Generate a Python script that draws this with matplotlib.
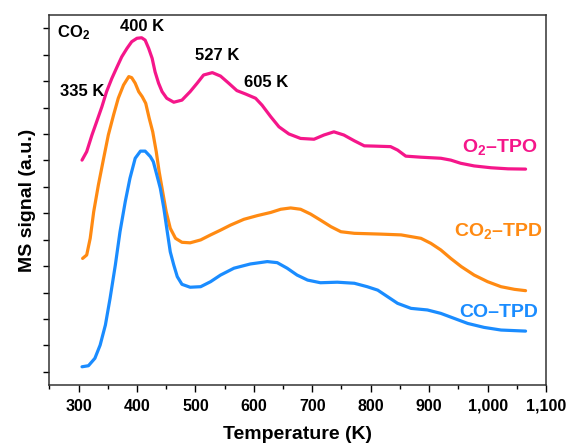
import numpy as np
import matplotlib
matplotlib.use("Agg")
import matplotlib.pyplot as plt
from matplotlib.ticker import FuncFormatter, MultipleLocator

plt.rcParams['font.family'] = ['Liberation Sans', 'DejaVu Sans']
plt.rcParams['font.weight'] = 'bold'
plt.rcParams['mathtext.fontset'] = 'custom'
plt.rcParams['mathtext.rm'] = 'Liberation Sans:bold'
plt.rcParams['mathtext.bf'] = 'Liberation Sans:bold'
plt.rcParams['mathtext.default'] = 'rm'

# O2-TPO (pink, top)
tpo_T = [306, 314, 323, 331, 340, 348, 357, 366, 374, 383, 391, 400, 408, 414, 420, 426, 431, 437, 443, 451,
         463, 477, 491, 503, 514, 529, 543, 557, 571, 586, 603, 614, 629, 643, 660, 680, 703, 720, 737, 754,
         772, 789, 806, 834, 846, 860, 886, 920, 937, 954, 977, 1006, 1035, 1065]
tpo_s = [8.01, 8.33, 8.96, 9.46, 10.03, 10.60, 11.10, 11.54, 11.92, 12.24, 12.49, 12.62, 12.64, 12.55, 12.24, 11.86, 11.35, 10.92, 10.60, 10.35,
         10.20, 10.28, 10.60, 10.92, 11.23, 11.32, 11.19, 10.92, 10.64, 10.51, 10.35, 10.09, 9.65, 9.27, 9.00, 8.83, 8.80, 8.96, 9.08, 8.96,
         8.74, 8.55, 8.54, 8.52, 8.39, 8.16, 8.12, 8.08, 8.01, 7.89, 7.79, 7.72, 7.68, 7.67]

# CO2-TPD (orange, middle)
co2_T = [307, 314, 320, 326, 334, 343, 351, 360, 368, 377, 386, 391, 397, 403, 409, 415, 421, 427, 433, 438,
         444, 450, 457, 466, 477, 491, 509, 526, 543, 560, 583, 606, 629, 646, 663, 680, 697, 714, 732, 749,
         772, 817, 852, 886, 903, 920, 937, 955, 977, 1000, 1023, 1046, 1065]
co2_s = [4.29, 4.42, 5.05, 6.06, 7.07, 8.08, 8.96, 9.72, 10.35, 10.85, 11.17, 11.13, 10.92, 10.60, 10.41, 10.16, 9.59, 9.08, 8.33, 7.57,
         6.81, 6.06, 5.43, 5.05, 4.90, 4.88, 4.99, 5.18, 5.36, 5.55, 5.77, 5.91, 6.03, 6.15, 6.20, 6.15, 5.97, 5.74, 5.49, 5.30,
         5.24, 5.21, 5.18, 5.05, 4.86, 4.61, 4.29, 3.98, 3.66, 3.41, 3.22, 3.12, 3.07]

# CO-TPD (blue, bottom)
co_T = [306, 317, 328, 337, 346, 354, 363, 371, 380, 388, 397, 406, 414, 423, 428, 434, 440, 446, 451, 457,
        463, 469, 477, 491, 509, 526, 543, 566, 594, 623, 640, 657, 674, 692, 714, 743, 772, 794, 812, 829,
        846, 869, 897, 920, 943, 966, 994, 1023, 1065]
co_s = [0.19, 0.23, 0.51, 1.01, 1.77, 2.78, 4.04, 5.30, 6.44, 7.32, 8.08, 8.35, 8.35, 8.14, 7.95, 7.45, 6.94, 6.19, 5.43, 4.54,
        4.04, 3.60, 3.31, 3.20, 3.22, 3.41, 3.66, 3.92, 4.08, 4.17, 4.13, 3.92, 3.66, 3.47, 3.37, 3.39, 3.35, 3.22, 3.09, 2.84,
        2.59, 2.40, 2.34, 2.21, 2.02, 1.83, 1.68, 1.58, 1.54]

pink = '#f5168a'
orange = '#ff8a12'
blue = '#1a8cff'

fig = plt.figure(figsize=(5.66, 4.43), dpi=100)
ax = fig.add_axes([0.0871, 0.1309, 0.8776, 0.8352])

for T, s, c in [(tpo_T, tpo_s, pink), (co2_T, co2_s, orange), (co_T, co_s, blue)]:
    ax.plot(T, s, color=c, lw=2.3, solid_joinstyle='round', solid_capstyle='round')

ax.set_xlim(250, 1100)
ax.set_ylim(-0.5, 13.5)
ax.set_xticks(np.arange(300, 1101, 100))
ax.xaxis.set_minor_locator(MultipleLocator(50))
ax.xaxis.set_major_formatter(FuncFormatter(lambda v, p: f'{int(v):,}'))
ax.yaxis.set_major_locator(MultipleLocator(1))
ax.set_yticklabels([])
ax.tick_params(axis='x', which='major', direction='out', length=5, width=1, labelsize=11.5, pad=5)
ax.tick_params(axis='x', which='minor', direction='out', length=3, width=1)
ax.tick_params(axis='y', which='major', direction='out', length=4, width=1)
for lab in ax.get_xticklabels():
    lab.set_fontweight('bold')
for sp in ax.spines.values():
    sp.set_color('#333333')
    sp.set_linewidth(1.1)

ax.set_xlabel('Temperature (K)', fontsize=14, fontweight='bold', labelpad=9)
ax.set_ylabel('MS signal (a.u.)', fontsize=14, fontweight='bold', labelpad=2)

# annotations
ax.text(263, 12.82, r'CO$_{2}$', fontsize=12, fontweight='bold', ha='left', va='center')
ax.text(408, 13.05, '400 K', fontsize=12, fontweight='bold', ha='center', va='center')
ax.text(538, 11.95, '527 K', fontsize=12, fontweight='bold', ha='center', va='center')
ax.text(621, 10.96, '605 K', fontsize=12, fontweight='bold', ha='center', va='center')
ax.text(307, 10.59, '335 K', fontsize=12, fontweight='bold', ha='center', va='center')

ax.text(1020, 8.50, r'O$_{2}$–TPO', fontsize=14, fontweight='bold', color=pink, ha='center', va='center')
ax.text(1019, 5.33, r'CO$_{2}$–TPD', fontsize=14, fontweight='bold', color=orange, ha='center', va='center')
ax.text(1019, 2.26, 'CO–TPD', fontsize=14, fontweight='bold', color=blue, ha='center', va='center')

fig.savefig('out.png', dpi=100)
